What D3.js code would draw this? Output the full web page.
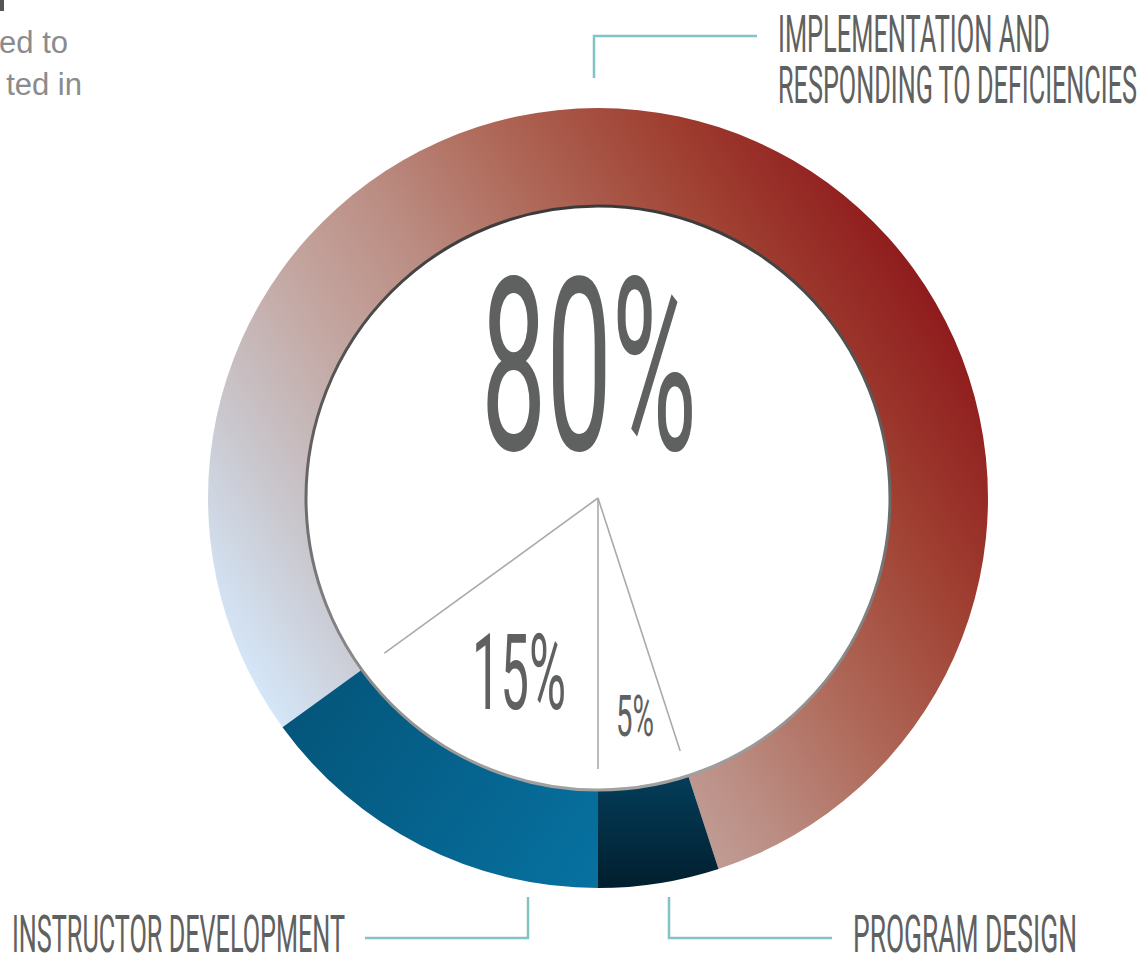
<!DOCTYPE html>
<html>
<head>
<meta charset="utf-8">
<script src="https://cdn.jsdelivr.net/npm/d3@7"></script>
<style>
  html, body { margin: 0; padding: 0; background: #fff; }
  svg { display: block; }
</style>
</head>
<body>
<div id="chart"></div>
<script>
const categories = ["Implementation and Responding to Deficiencies", "Program Design", "Instructor Development"]
const values = [80, 5, 15]
const valueLabels = ["80%", "5%", "15%"]
const labelLines = [["IMPLEMENTATION AND", "RESPONDING TO DEFICIENCIES"], ["PROGRAM DESIGN"], ["INSTRUCTOR DEVELOPMENT"]]
const introLines = ["ed to", "ted in"]

const width = 1140
const height = 954
const cx = 598
const cy = 498
const outerR = 390
const innerR = 292
const grey = "#5f6160"
const teal = "#82c3c4"

const svg = d3.select("#chart")
  .append("svg")
  .attr("width", width)
  .attr("height", height)
  .attr("viewBox", `0 0 ${width} ${height}`)

const defs = svg.append("defs")

// gradients (coordinates relative to the ring centre, since the ring group is translated)
function linGrad(id, x1, y1, x2, y2, stops) {
  const lg = defs.append("linearGradient")
    .attr("id", id)
    .attr("gradientUnits", "userSpaceOnUse")
    .attr("x1", x1 - cx).attr("y1", y1 - cy)
    .attr("x2", x2 - cx).attr("y2", y2 - cy)
  stops.forEach(s => lg.append("stop").attr("offset", s[0]).attr("stop-color", s[1]))
}

linGrad("g-impl", 965, 300, 280, 725, [
  [0, "#8c1519"], [0.2, "#9f3f31"], [0.38, "#ae6656"], [0.55, "#bb8d83"],
  [0.68, "#c3a49e"], [0.85, "#c9c6cc"], [1, "#d4e6f8"]
])
linGrad("g-instr", 300, 690, 590, 890, [[0, "#04557a"], [1, "#0771a0"]])
linGrad("g-prog", 650, 780, 650, 890, [[0, "#043c58"], [1, "#011e2d"]])
linGrad("g-edge", cx, cy - innerR, cx, cy + innerR, [[0, "#3a3a3a"], [0.5, "#6a6a6a"], [1, "#a2a2a2"]])

const fills = ["url(#g-impl)", "url(#g-prog)", "url(#g-instr)"]

const pie = d3.pie()
  .sort(null)
  .startAngle(-126 * Math.PI / 180)
  .endAngle(234 * Math.PI / 180)

const arcs = pie(values)

const arc = d3.arc()
  .innerRadius(innerR)
  .outerRadius(outerR)

const g = svg.append("g")
  .attr("transform", `translate(${cx},${cy})`)

g.selectAll(".slice")
  .data(arcs)
  .enter()
  .append("path")
  .attr("class", "slice")
  .attr("d", arc)
  .attr("fill", (d, i) => fills[i])

// inner edge
g.append("circle")
  .attr("cx", 0).attr("cy", 0)
  .attr("r", innerR)
  .attr("fill", "#fff")
  .attr("stroke", "url(#g-edge)")
  .attr("stroke-width", 3)

// thin radial lines at slice boundaries
const lineR = [266, 271, 264]
g.selectAll(".spoke")
  .data(arcs)
  .enter()
  .append("line")
  .attr("class", "spoke")
  .attr("x1", 0).attr("y1", 0)
  .attr("x2", (d, i) => lineR[i] * Math.sin(d.endAngle))
  .attr("y2", (d, i) => -lineR[i] * Math.cos(d.endAngle))
  .attr("stroke", "#aaaaaa")
  .attr("stroke-width", 1.6)

// percentage labels
const pctSpecs = [
  { x: 481, y: 450, size: 242, w: 216 },
  { x: 616, y: 736, size: 58, w: 38 },
  { x: 472, y: 709, size: 106, w: 94 }
]
svg.selectAll(".pct")
  .data(valueLabels)
  .enter()
  .append("text")
  .attr("class", "pct")
  .attr("x", (d, i) => pctSpecs[i].x)
  .attr("y", (d, i) => pctSpecs[i].y)
  .attr("font-family", "Roboto, 'Liberation Sans', sans-serif")
  .attr("font-size", (d, i) => pctSpecs[i].size)
  .attr("textLength", (d, i) => pctSpecs[i].w)
  .attr("lengthAdjust", "spacingAndGlyphs")
  .attr("fill", grey)
  .text(d => d)

// category labels
const labelSpecs = [
  { x: 778, y: 52, lh: 51, size: 52, w: [272, 359] },
  { x: 853, y: 952, lh: 0, size: 52, w: [224] },
  { x: 12, y: 952, lh: 0, size: 52, w: [333] }
]
labelLines.forEach((lines, i) => {
  const s = labelSpecs[i]
  lines.forEach((t, j) => {
    svg.append("text")
      .attr("x", s.x)
      .attr("y", s.y + j * s.lh)
      .attr("font-family", "Roboto, 'Liberation Sans', sans-serif")
      .attr("font-size", s.size)
      .attr("textLength", s.w[j])
      .attr("lengthAdjust", "spacingAndGlyphs")
      .attr("fill", grey)
      .text(t)
  })
})

// leader lines
const leaders = [
  [[594, 78], [594, 36], [757, 36]],
  [[669, 897], [669, 938], [832, 938]],
  [[365, 938], [528, 938], [528, 897]]
]
svg.selectAll(".leader")
  .data(leaders)
  .enter()
  .append("path")
  .attr("class", "leader")
  .attr("d", d => d3.line()(d))
  .attr("fill", "none")
  .attr("stroke", teal)
  .attr("stroke-width", 2.5)

// clipped intro text at top-left
svg.selectAll(".intro")
  .data(introLines)
  .enter()
  .append("text")
  .attr("class", "intro")
  .attr("x", (d, i) => [68, 82][i])
  .attr("y", (d, i) => 53 + i * 42)
  .attr("text-anchor", "end")
  .attr("font-family", "'Liberation Sans', Arial, sans-serif")
  .attr("font-size", 31)
  .attr("fill", "#8a8b8c")
  .text(d => d)

svg.append("rect")
  .attr("x", 0).attr("y", 0)
  .attr("width", 4).attr("height", 11)
  .attr("fill", "#555")
</script>
</body>
</html>
